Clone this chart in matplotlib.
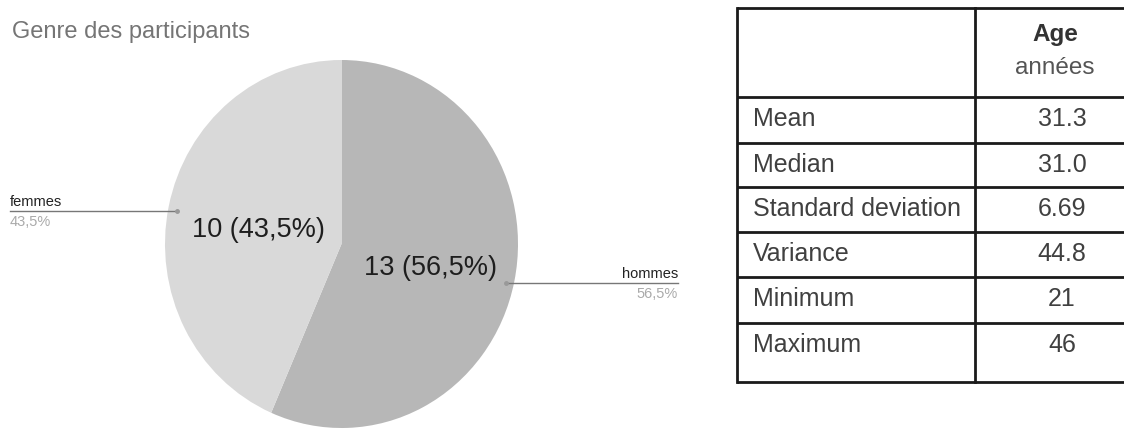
#!/usr/bin/env python3
"""Genre des participants (pie) + age statistics table."""
import matplotlib

matplotlib.use("Agg")
import matplotlib.pyplot as plt
import numpy as np

plt.rcParams["font.family"] = ["Liberation Sans", "DejaVu Sans"]

# --- data -------------------------------------------------------------
gender_labels = ["hommes", "femmes"]
gender_counts = [13, 10]
gender_colors = ["#b7b7b7", "#d9d9d9"]

stat_names = ["Mean", "Median", "Standard deviation", "Variance",
              "Minimum", "Maximum"]
stat_values = ["31.3", "31.0", "6.69", "44.8", "21", "46"]
header_title = "Age"
header_unit = "années"

# --- layout (pixels, y down) -------------------------------------------
W, H = 1124, 430
PIE_BOX = (165, 60, 518, 428)          # left, top, right, bottom
TABLE_X = (737, 975)                    # left border, column divider
TABLE_ROWS = [8, 97, 143, 187, 232, 277, 323, 382]


def fr(v):
    return f"{v:.1f}".replace(".", ",")


fig = plt.figure(figsize=(W / 100, H / 100), dpi=100)
fig.patch.set_facecolor("white")

l, t, r, b = PIE_BOX
ax_pie = fig.add_axes([l / W, (H - b) / H, (r - l) / W, (b - t) / H])
total = sum(gender_counts)
wedges, _ = ax_pie.pie(gender_counts, colors=gender_colors, startangle=90,
                       counterclock=False, radius=1,
                       wedgeprops=dict(linewidth=0))
ax_pie.set_aspect("auto")
ax_pie.set_xlim(-1, 1)
ax_pie.set_ylim(-1, 1)
ax_pie.axis("off")

# overlay axes in pixel coordinates
ax = fig.add_axes([0, 0, 1, 1], facecolor="none")
ax.set_xlim(0, W)
ax.set_ylim(H, 0)
ax.axis("off")


def pie_to_px(rad, ang_deg):
    a = np.deg2rad(ang_deg)
    d = ax_pie.transData.transform((rad * np.cos(a), rad * np.sin(a)))
    return ax.transData.inverted().transform(d)


ax.text(12, 38, "Genre des participants", fontsize=17, color="#757575",
        ha="left", va="baseline")

for w, lab, cnt in zip(wedges, gender_labels, gender_counts):
    pct = 100 * cnt / total
    mid = 0.5 * (w.theta1 + w.theta2)
    x, y = pie_to_px(0.5, mid)
    ax.text(x + 3, y + 5, f"{cnt} ({fr(pct)}%)", fontsize=19.5,
            color="#1e1e1e", ha="center", va="center")
    ex, ey = pie_to_px(0.95, mid)
    ey += 3
    if np.cos(np.deg2rad(mid)) < 0:
        x_end, ha = 10, "left"
    else:
        x_end, ha = 678, "right"
    ax.plot([ex, x_end], [ey, ey], color="#777777", lw=1)
    ax.plot([ex], [ey], "o", ms=2.5, color="#999999")
    ax.text(x_end, ey - 5, lab, fontsize=10.5, color="#222222",
            ha=ha, va="baseline")
    ax.text(x_end, ey + 15, f"{fr(pct)}%", fontsize=10.5, color="#aaaaaa",
            ha=ha, va="baseline")

# --- table ------------------------------------------------------------
line_kw = dict(color="#1a1a1a", lw=2)
x0, xd = TABLE_X
for yy in TABLE_ROWS:
    ax.plot([x0, W], [yy, yy], solid_capstyle="butt", **line_kw)
ax.plot([x0, x0], [TABLE_ROWS[0], TABLE_ROWS[-1]], **line_kw)
ax.plot([xd, xd], [TABLE_ROWS[0], TABLE_ROWS[-1]], **line_kw)

ax.text(1055, 35, header_title, fontsize=17.5, fontweight="bold",
        color="#333333", ha="center", va="center")
ax.text(1055, 68, header_unit, fontsize=17.5, color="#555555",
        ha="center", va="center")

for i, (name, val) in enumerate(zip(stat_names, stat_values)):
    yc = TABLE_ROWS[i + 1] + 22
    ax.text(753, yc, name, fontsize=18, color="#404040",
            ha="left", va="center")
    ax.text(1062, yc, val, fontsize=18, color="#404040",
            ha="center", va="center")

fig.savefig("out.png", dpi=100)
